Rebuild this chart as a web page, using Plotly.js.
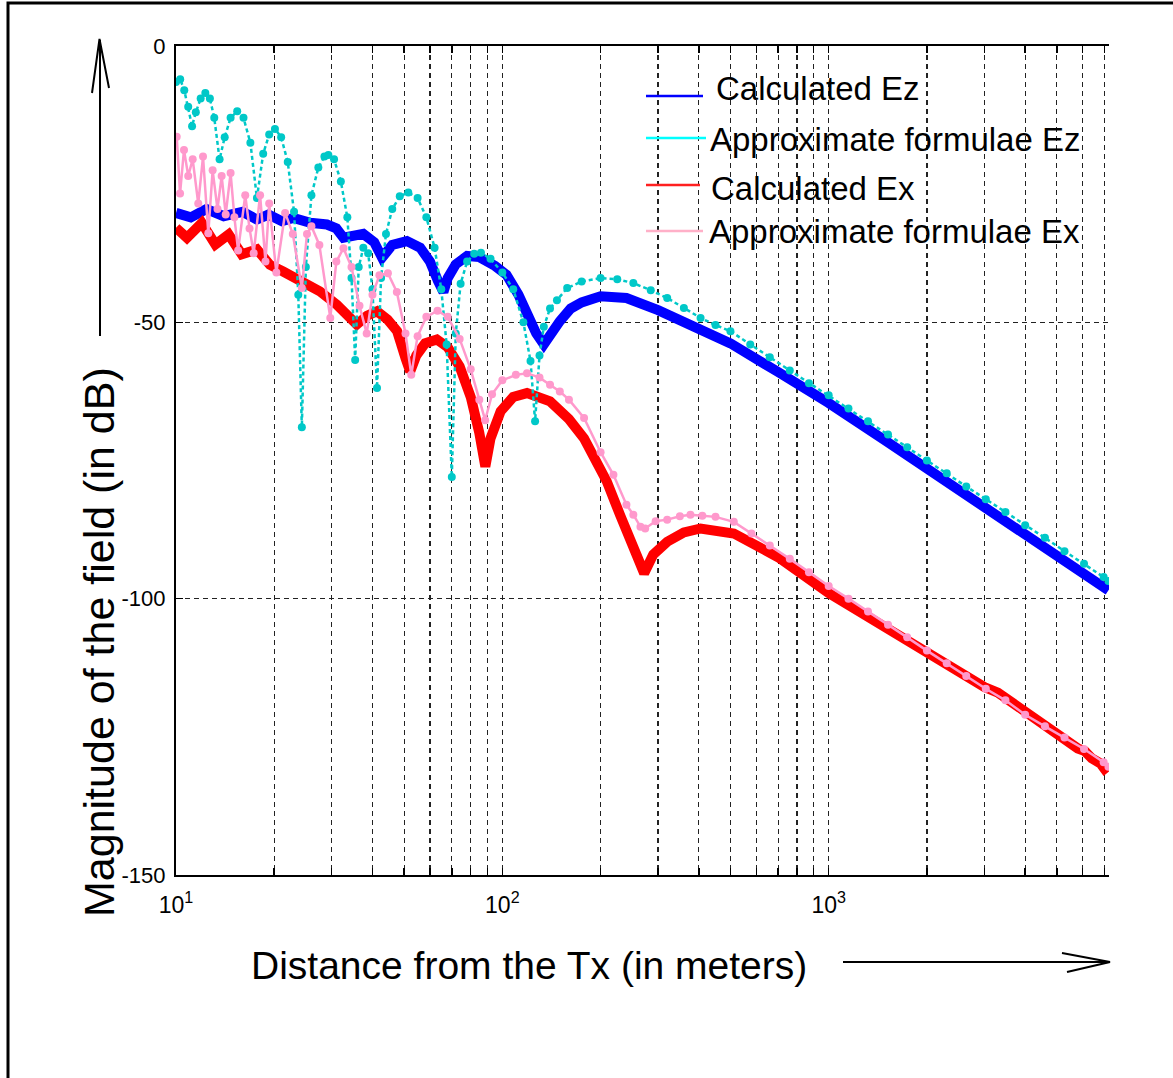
<!DOCTYPE html>
<html>
<head>
<meta charset="utf-8">
<script src="https://cdn.plot.ly/plotly-3.0.1.min.js"></script>
<style>
html,body{margin:0;padding:0;background:#fff;}
#chart{width:1173px;height:1078px;}
</style>
</head>
<body>
<div id="chart"></div>
<script>
// ---------- data ----------
const calcEzX = [10, 11.1, 12.4, 14.0, 16.0, 17.7, 19.2, 21.1, 22.9, 25.8, 29.0, 31.0, 32.6, 35.0, 37.5, 40.5, 42.8, 46.0, 51.0, 56.0, 60.0, 63.5, 66.0, 68.0, 72.0, 78.0, 85.0, 95.0, 103, 112, 119, 127, 134, 141, 150, 162, 175, 200, 240, 300, 400, 500, 700, 1000, 1500, 2000, 3000, 4000, 5000, 6000, 7200];
const calcEzY = [-30.2, -31.0, -29.5, -30.8, -30.0, -31.4, -30.5, -31.7, -31.1, -32.0, -32.3, -33.0, -34.7, -34.3, -34.0, -35.5, -38.3, -36.0, -35.3, -36.5, -39.0, -42.5, -44.5, -42.0, -39.5, -38.0, -38.2, -39.8, -41.4, -45.0, -48.6, -52.0, -54.0, -52.0, -49.8, -47.5, -46.4, -45.3, -45.6, -47.8, -51.3, -53.8, -59.0, -64.6, -71.5, -76.4, -83.4, -88.0, -91.8, -95.0, -98.5];

const approxEzX = [10.0, 10.3, 10.6, 10.9, 11.2, 11.5, 11.9, 12.3, 12.7, 13.1, 13.6, 14.1, 14.7, 15.4, 16.1, 16.9, 17.7, 18.5, 19.3, 20.1, 21.0, 22.0, 23.0, 23.7, 24.3, 25.0, 26.0, 27.3, 28.5, 29.3, 30.5, 32.0, 33.5, 34.5, 35.4, 36.3, 37.5, 38.8, 40.0, 41.3, 42.5, 44.0, 46.0, 48.5, 51.5, 55.0, 58.5, 62.0, 65.0, 67.5, 70.0, 72.0, 74.5, 78.0, 82.0, 86.0, 92.0, 100, 108, 116, 122, 126, 130, 134, 140, 147, 158, 175, 200, 225, 252, 285, 320, 360, 405, 450, 500, 575, 660, 760, 870, 1000, 1150, 1320, 1520, 1740, 2000, 2300, 2640, 3030, 3480, 4000, 4600, 5280, 6060, 6960, 7200];
const approxEzY = [-6.5, -6.0, -8.0, -11.0, -14.5, -12.0, -9.5, -8.5, -9.5, -13.0, -20.5, -16.5, -13.0, -11.8, -13.0, -17.5, -27.5, -19.5, -16.0, -15.0, -16.5, -21.0, -30.0, -45.0, -69.0, -40.0, -27.0, -22.0, -20.0, -19.7, -20.5, -24.5, -31.0, -42.0, -56.8, -40.0, -36.5, -37.5, -44.0, -61.9, -42.0, -34.0, -29.5, -27.2, -26.5, -27.5, -31.0, -36.5, -44.0, -54.0, -78.0, -52.0, -43.0, -39.0, -37.6, -37.4, -38.5, -41.0, -44.0, -50.0, -57.0, -67.9, -56.0, -50.8, -47.5, -46.0, -43.8, -42.6, -42.0, -42.2, -42.9, -44.2, -45.6, -47.4, -49.2, -50.5, -51.6, -54.0, -56.3, -58.7, -61.0, -63.2, -65.6, -67.9, -70.3, -72.6, -75.0, -77.3, -79.7, -82.0, -84.3, -86.7, -89.0, -91.4, -93.7, -96.1, -96.8];

const calcExX = [10, 10.8, 12.0, 13.2, 14.5, 15.9, 17.7, 19.4, 21.3, 24.6, 27.6, 31.1, 33.5, 35.8, 38.5, 41.3, 44.5, 47.6, 50.5, 52.2, 54.5, 58.0, 63.0, 68.0, 74.0, 80.0, 85.0, 88.7, 92.0, 98.8, 108, 119, 140, 160, 178, 209, 230, 247, 260, 272, 290, 320, 360, 405, 512, 700, 1000, 1500, 2000, 2500, 3000, 3300, 3600, 4000, 4400, 4700, 5000, 5400, 5800, 6100, 6400, 6800, 7000, 7200];
const calcExY = [-32.9, -34.7, -32.0, -35.9, -34.1, -37.7, -36.8, -39.6, -40.8, -42.6, -44.4, -46.8, -48.8, -50.4, -48.8, -48.0, -49.5, -51.6, -56.5, -58.9, -56.0, -53.8, -53.1, -54.5, -58.0, -63.5, -70.0, -76.1, -71.0, -66.1, -63.5, -62.8, -64.3, -67.5, -71.0, -78.8, -85.0, -89.7, -93.5, -95.4, -92.0, -89.7, -88.0, -87.3, -88.2, -92.5, -99.0, -105.3, -110.2, -113.4, -116.0, -117.0, -118.6, -120.4, -121.9, -123.2, -124.2, -125.6, -127.1, -127.6, -128.9, -129.8, -130.8, -130.2];

const approxExX = [10.05, 10.29, 10.58, 10.9, 11.25, 11.7, 12.1, 12.56, 12.95, 13.4, 13.8, 14.2, 14.7, 15.1, 15.5, 16.3, 16.8, 17.3, 18.1, 18.8, 19.3, 20.3, 21.6, 22.8, 24.3, 25.2, 26.0, 27.5, 29.7, 31.0, 32.6, 34.5, 36.5, 38.4, 40.0, 42.0, 44.6, 47.5, 50.5, 52.6, 55.0, 58.5, 63.3, 68.0, 74.0, 80.0, 85.0, 88.6, 93.0, 100, 110, 119, 130, 140, 150, 160, 178, 200, 219, 240, 252, 265, 274, 295, 320, 350, 377, 410, 450, 512, 580, 660, 760, 870, 1000, 1150, 1320, 1520, 1740, 2000, 2300, 2640, 3030, 3480, 4000, 4600, 5280, 6060, 6960, 7200];
const approxExY = [-16.4, -26.7, -18.8, -23.5, -20.5, -28.5, -20.0, -33.9, -22.5, -29.5, -23.5, -30.5, -23.0, -31.0, -37.0, -27.0, -33.0, -37.5, -27.0, -39.0, -28.5, -41.0, -30.2, -34.0, -43.8, -34.0, -32.6, -36.0, -49.2, -39.0, -36.6, -40.0, -47.0, -52.0, -45.0, -41.5, -41.1, -44.5, -52.0, -59.5, -52.5, -49.0, -47.9, -49.0, -53.0, -58.5, -64.0, -67.7, -63.0, -60.5, -59.5, -59.2, -60.0, -61.3, -62.5, -64.0, -67.3, -73.5, -77.6, -83.0, -84.8, -87.0, -87.3, -86.0, -85.7, -85.1, -84.8, -85.0, -85.2, -86.1, -88.2, -90.4, -92.8, -95.2, -97.7, -100.0, -102.3, -104.7, -107.0, -109.4, -111.7, -114.0, -116.3, -118.4, -121.0, -123.1, -125.1, -127.2, -129.6, -130.4];

const seriesNames = ["Calculated Ez", "Approximate formulae Ez", "Calculated Ex", "Approximate formulae Ex"];
const xMajorVals = [10, 100, 1000];
const xMajorLabels = ["10<sup>1</sup>", "10<sup>2</sup>", "10<sup>3</sup>"];
const xMinorVals = [20, 30, 40, 50, 60, 70, 80, 90, 200, 300, 400, 500, 600, 700, 800, 900, 2000, 3000, 4000, 5000, 6000, 7000];
const yTickVals = [-150, -100, -50, 0];
const yTickLabels = ["-150", "-100", "-50", "0"];
const xTitle = "Distance from the Tx (in meters)";
const yTitle = "Magnitude of the field (in dB)";

// ---------- layout helpers (pixel -> paper) ----------
const FW = 1173, FH = 1078;
const ML = 176, MT = 46, PW = 933, PH = 829;
const px = p => (p - ML) / PW;
const py = p => (MT + PH - p) / PH;
const FONT = "Liberation Sans, Arial, Helvetica, sans-serif";
const GRID = {gridcolor: "#222", gridwidth: 1.2, griddash: "5px,4px"};

const traces = [
  {x: calcEzX, y: calcEzY, name: seriesNames[0], mode: "lines",
   line: {color: "#0000FF", width: 10}},
  {x: calcExX, y: calcExY, name: seriesNames[2], mode: "lines",
   line: {color: "#FF0000", width: 10}},
  {x: approxEzX, y: approxEzY, name: seriesNames[1], mode: "lines+markers",
   line: {color: "#00C8C8", width: 2.5, dash: "4px,3px"},
   marker: {color: "#00C8C8", size: 8, symbol: "circle"}},
  {x: approxExX, y: approxExY, name: seriesNames[3], mode: "lines+markers",
   line: {color: "#FF99CC", width: 2.5},
   marker: {color: "#FF99CC", size: 8, symbol: "circle"}}
];

const legendItems = [
  {name: seriesNames[0], color: "#0000FF", lx0: 646, lx1: 703, ly: 96, tx: 714, ty: 88},
  {name: seriesNames[1], color: "#00FFFF", lx0: 646, lx1: 706, ly: 138, tx: 708, ty: 139},
  {name: seriesNames[2], color: "#FF2020", lx0: 646, lx1: 700, ly: 185, tx: 709, ty: 189},
  {name: seriesNames[3], color: "#FFB0C8", lx0: 646, lx1: 703, ly: 231, tx: 707, ty: 231}
];

const shapes = [
  {type: "rect", xref: "paper", yref: "paper", x0: px(8), x1: px(1200), y0: py(1100), y1: py(3),
   line: {color: "black", width: 3}, fillcolor: "rgba(0,0,0,0)"},
  {type: "line", xref: "paper", yref: "paper", x0: px(100), x1: px(100), y0: py(336), y1: py(40),
   line: {color: "black", width: 2}},
  {type: "path", xref: "paper", yref: "paper",
   path: `M ${px(92)} ${py(93)} L ${px(99.5)} ${py(39)} L ${px(109)} ${py(88)}`,
   line: {color: "black", width: 2}},
  {type: "line", xref: "paper", yref: "paper", x0: px(843), x1: px(1110), y0: py(962), y1: py(962),
   line: {color: "black", width: 2}},
  {type: "path", xref: "paper", yref: "paper",
   path: `M ${px(1062)} ${py(953)} L ${px(1110)} ${py(962)} L ${px(1067)} ${py(972)}`,
   line: {color: "black", width: 2}}
];
legendItems.forEach(it => shapes.push({
  type: "line", xref: "paper", yref: "paper",
  x0: px(it.lx0), x1: px(it.lx1), y0: py(it.ly), y1: py(it.ly),
  line: {color: it.color, width: 2.5}
}));

const annotations = [
  {xref: "paper", yref: "paper", x: px(529), y: py(965), text: xTitle, showarrow: false,
   xanchor: "center", yanchor: "middle", font: {family: FONT, size: 39, color: "black"}},
  {xref: "paper", yref: "paper", x: px(99), y: py(642), text: yTitle, showarrow: false,
   textangle: -90, xanchor: "center", yanchor: "middle", font: {family: FONT, size: 43, color: "black"}}
];
legendItems.forEach(it => annotations.push({
  xref: "paper", yref: "paper", x: px(it.tx), y: py(it.ty), text: it.name, showarrow: false,
  xanchor: "left", yanchor: "middle", font: {family: FONT, size: 33, color: "black"}
}));

const layout = {
  width: FW, height: FH,
  margin: {l: ML, r: FW - ML - PW, t: MT, b: FH - MT - PH, pad: 0},
  paper_bgcolor: "white", plot_bgcolor: "white",
  showlegend: false,
  font: {family: FONT, color: "black"},
  xaxis: Object.assign({
    type: "log", range: [1, 3.859], autorange: false,
    tickmode: "array", tickvals: xMajorVals, ticktext: xMajorLabels,
    ticks: "inside", ticklen: 7, tickwidth: 1.5, tickcolor: "black",
    ticklabelstandoff: 8,
    showline: true, linecolor: "black", linewidth: 2, mirror: "ticks",
    showgrid: true, zeroline: false,
    tickfont: {family: FONT, size: 23, color: "black"},
    minor: Object.assign({tickmode: "array", tickvals: xMinorVals, ticks: "inside",
      ticklen: 7, tickwidth: 1.5, tickcolor: "black", showgrid: true}, GRID)
  }, GRID),
  yaxis: Object.assign({
    range: [-150, 0], autorange: false,
    tickmode: "array", tickvals: yTickVals, ticktext: yTickLabels,
    ticks: "inside", ticklen: 7, tickwidth: 1.5, tickcolor: "black",
    ticklabelstandoff: 4,
    showline: true, linecolor: "black", linewidth: 2, mirror: false,
    showgrid: true, zeroline: false,
    tickfont: {family: FONT, size: 22, color: "black"}
  }, GRID),
  shapes: shapes,
  annotations: annotations
};

Plotly.newPlot("chart", traces, layout, {staticPlot: true, displayModeBar: false});
</script>
</body>
</html>
